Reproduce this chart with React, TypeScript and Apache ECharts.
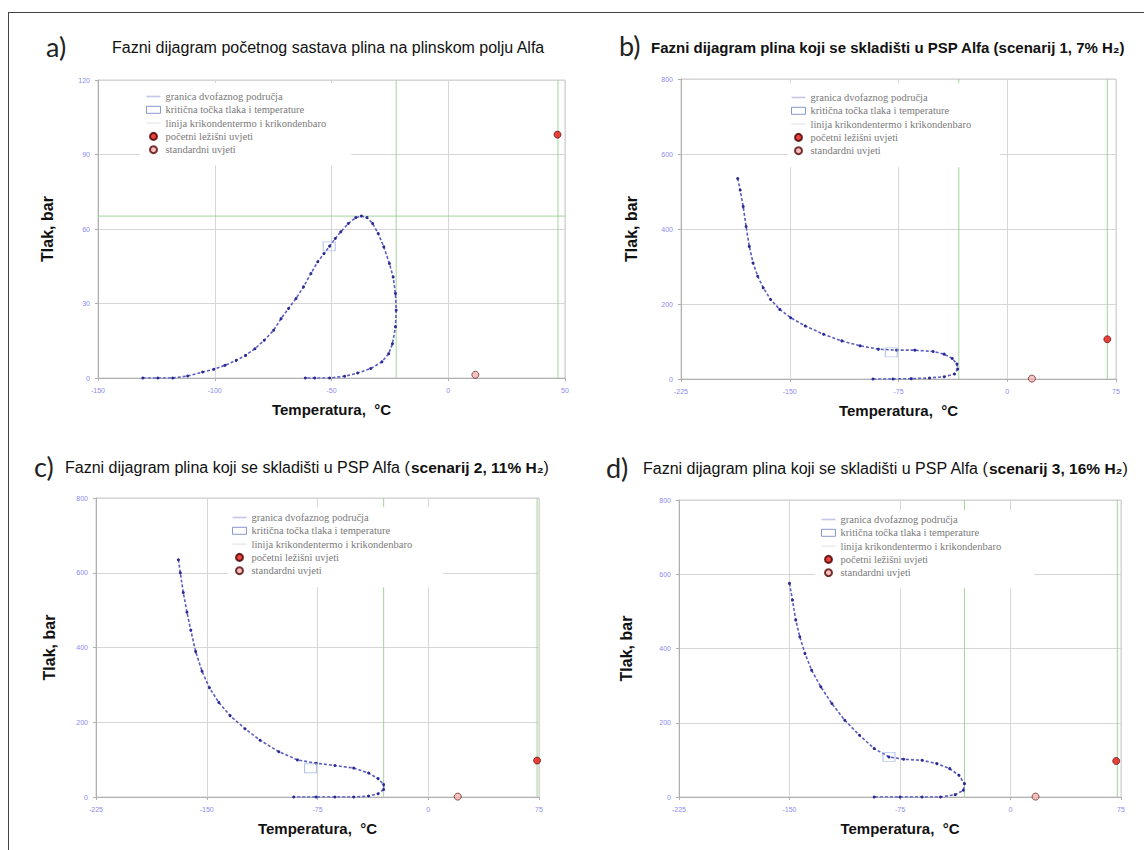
import React, { useEffect, useRef } from "react";
import * as echarts from "echarts";

// ---------- texts ----------
const panelLetters = ["a)", "b)", "c)", "d)"];
const titleA = "Fazni dijagram početnog sastava plina na plinskom polju Alfa";
const titleB = "Fazni dijagram plina koji se skladišti u PSP Alfa (scenarij 1, 7% H₂)";
const titleCD = "Fazni dijagram plina koji se skladišti u PSP Alfa (";
const boldC = "scenarij 2, 11% H₂";
const boldD = "scenarij 3, 16% H₂";
const xName = "Temperatura,  °C";
const yName = "Tlak, bar";
const legendNames = [
  "granica dvofaznog područja",
  "kritična točka tlaka i temperature",
  "linija krikondentermo i krikondenbaro",
  "početni ležišni uvjeti",
  "standardni uvjeti",
];

// ---------- axis ranges ----------
const xRangeA = [-150, 50, 50];
const yRangeA = [0, 120, 30];
const xRangeH2 = [-225, 75, 75];
const yRangeH2 = [0, 800, 200];

// ---------- data (T °C, p bar) ----------
const envelopeA = [
  [-130.8, 0], [-124.4, 0], [-118, 0], [-111.6, 0.8], [-105.2, 2.4], [-100.4, 3.5],
  [-95.6, 5.1], [-90.8, 7.1], [-86.8, 9.1], [-82.8, 11.8], [-78.8, 15.2], [-74.8, 19.2],
  [-71.6, 23.9], [-68.4, 28], [-65.2, 32], [-62, 36.7], [-58.8, 42.1], [-55.9, 46.8],
  [-53.2, 50.1], [-50.8, 53.1], [-48.4, 56.2], [-46, 58.9], [-42.8, 62.2], [-39.6, 64.6],
  [-37.2, 65.2], [-34.8, 64.6], [-32.4, 62.2], [-30, 58.2], [-27.6, 52.8], [-25.2, 46.1],
  [-23.6, 40.7], [-22.6, 34], [-22.3, 27.3], [-22.6, 20.6], [-23.9, 13.8], [-25.5, 9.8],
  [-28.4, 6.5], [-33.2, 3.8], [-38.8, 2], [-44.4, 0.7], [-50.8, 0], [-57.2, 0], [-61.2, 0],
];
const envelopeB = [
  [-185.9, 534.8], [-184.2, 503.9], [-182.1, 459.7], [-180.1, 406.6], [-177.9, 353.6],
  [-175.3, 309.4], [-172.1, 274], [-168.3, 243.1], [-163.2, 212.2], [-156.9, 185.6],
  [-149.4, 163.5], [-139.3, 141.4], [-126.7, 119.3], [-114.1, 101.7], [-101.5, 88.4],
  [-88.9, 79.6], [-76.3, 76.9], [-63.7, 76.9], [-51.1, 73.4], [-43.5, 66.3], [-37.9, 54.8],
  [-34.7, 39.8], [-34.2, 26.5], [-36.4, 13.3], [-43.5, 6.2], [-53.6, 2.7], [-66.2, 0.9],
  [-78.8, 0], [-92.6, 0],
];
const envelopeC = [
  [-169.2, 634.8], [-167.9, 599.7], [-165.9, 547], [-163.4, 494.3], [-160.8, 446],
  [-157.5, 389], [-153.2, 336.3], [-148.2, 292.4], [-141.8, 252.9], [-134.2, 217.7],
  [-124.1, 182.6], [-113.9, 151.9], [-101.2, 121.2], [-88.6, 99.2], [-75.9, 90.4],
  [-63.2, 84.3], [-50.5, 77.3], [-40.4, 64.1], [-34, 49.2], [-30.2, 33.4], [-30.2, 20.2],
  [-34, 8.8], [-40.4, 2.6], [-50.5, 0], [-63.2, 0], [-75.9, 0], [-91.1, 0],
];
const envelopeD = [
  [-150, 575.4], [-148, 530.4], [-145.75, 476.5], [-143, 431.5], [-139.5, 386.6],
  [-135, 341.6], [-128.75, 296.7], [-121.25, 251.7], [-112.5, 206.8], [-102.5, 166.3],
  [-92.5, 130.4], [-82.5, 107.9], [-72.5, 101.6], [-60, 98.9], [-50, 89.9], [-41.25, 76.4],
  [-35, 58.4], [-31.25, 36], [-32, 18], [-37.5, 6.3], [-47.5, 0], [-60, 0], [-75, 0], [-92.5, 0],
];
const criticalA = [-51, 53];
const criticalB = [-80, 71];
const criticalC = [-79.7, 77];
const criticalD = [-82.5, 108];
const initialA = [46.8, 98];
const initialB = [69, 106];
const initialC = [73.7, 97.5];
const initialD = [71.75, 97];
const standardA = [11.6, 1.3];
const standardB = [17, 1];
const standardC = [20, 1];
const standardD = [17, 1];
const cricondenthermA = [-22.3, 47];
const cricondenthermB = [-33.4, 69];
const cricondenthermC = [-30.2, 73.7];
const cricondenthermD = [-31.25, 72.5];
const cricondenbarA = [65.2];

// ---------- layout ----------
const grids = [
  { left: 98, top: 80, width: 467, height: 298 },
  { left: 681, top: 79, width: 435, height: 300 },
  { left: 96, top: 498, width: 443, height: 299 },
  { left: 679, top: 500, width: 442, height: 297 },
];
const yNameGaps = [43, 42, 39, 45];
const legendPos = [
  { left: 140, top: 83, padding: [8, 25, 10, 6] },
  { left: 788, top: 83, padding: [9, 29, 11, 3] },
  { left: 228, top: 507, padding: [5, 31, 11, 4] },
  { left: 815, top: 510, padding: [4, 33, 10, 6] },
];

const FONT = "'Liberation Sans', Arial, sans-serif";

export default function App() {
  const ref = useRef<HTMLDivElement>(null);
  useEffect(() => {
    document.body.style.margin = "0";
    if (!ref.current) return;
    const chart = echarts.init(ref.current, null, { renderer: "svg" });

    const panels = [
      { env: envelopeA, crit: criticalA, init: initialA, std: standardA, gv: cricondenthermA, gh: cricondenbarA, xr: xRangeA, yr: yRangeA },
      { env: envelopeB, crit: criticalB, init: initialB, std: standardB, gv: cricondenthermB, gh: [], xr: xRangeH2, yr: yRangeH2 },
      { env: envelopeC, crit: criticalC, init: initialC, std: standardC, gv: cricondenthermC, gh: [], xr: xRangeH2, yr: yRangeH2 },
      { env: envelopeD, crit: criticalD, init: initialD, std: standardD, gv: cricondenthermD, gh: [], xr: xRangeH2, yr: yRangeH2 },
    ];

    const xAxis: any[] = [];
    const yAxis: any[] = [];
    const series: any[] = [];
    const legend: any[] = [];

    panels.forEach((p, i) => {
      xAxis.push({
        gridIndex: i, type: "value", min: p.xr[0], max: p.xr[1], interval: p.xr[2],
        name: xName, nameLocation: "middle", nameGap: 24,
        nameTextStyle: { fontFamily: FONT, fontWeight: "bold", fontSize: 15, color: "#111" },
        axisLine: { show: true, onZero: false, lineStyle: { color: "#b0b0b0" } },
        axisTick: { show: true, length: 3, lineStyle: { color: "#b0b0b0" } },
        axisLabel: { fontSize: 7, color: "#8a8af0", margin: 9, fontFamily: FONT },
        splitLine: { show: true, lineStyle: { color: "#d6d6d6" } },
      });
      yAxis.push({
        gridIndex: i, type: "value", min: p.yr[0], max: p.yr[1], interval: p.yr[2],
        name: yName, nameLocation: "middle", nameGap: yNameGaps[i],
        nameTextStyle: { fontFamily: FONT, fontWeight: "bold", fontSize: 16, color: "#111" },
        axisLine: { show: true, onZero: false, lineStyle: { color: "#b0b0b0" } },
        axisTick: { show: true, length: 3, lineStyle: { color: "#b0b0b0" } },
        axisLabel: { fontSize: 7, color: "#8a8af0", margin: 8, fontFamily: FONT },
        splitLine: { show: true, lineStyle: { color: "#d6d6d6" } },
      });

      p.gv.forEach((x) => {
        series.push({
          name: legendNames[2], type: "line", xAxisIndex: i, yAxisIndex: i,
          data: [[x, p.yr[0]], [x, p.yr[1]]], showSymbol: false, silent: true,
          lineStyle: { color: "#a2d49a", width: 1 }, itemStyle: { color: "#a2d49a" }, z: 1,
        });
      });
      p.gh.forEach((y) => {
        series.push({
          name: legendNames[2], type: "line", xAxisIndex: i, yAxisIndex: i,
          data: [[p.xr[0], y], [p.xr[1], y]], showSymbol: false, silent: true,
          lineStyle: { color: "#a2d49a", width: 1 }, itemStyle: { color: "#a2d49a" }, z: 1,
        });
      });
      series.push({
        name: legendNames[0], type: "line", xAxisIndex: i, yAxisIndex: i,
        data: p.env, smooth: false, symbol: "circle", symbolSize: 3, showSymbol: true,
        lineStyle: { color: "#5c5cc4", width: 1.6, type: [3, 2] }, itemStyle: { color: "#2a2a92" }, z: 3,
      });
      series.push({
        name: legendNames[1], type: "scatter", xAxisIndex: i, yAxisIndex: i,
        data: [p.crit], symbol: "rect", symbolSize: [12, 9],
        itemStyle: { color: "rgba(255,255,255,0)", borderColor: "#a4b6e6", borderWidth: 1 }, z: 4,
      });
      series.push({
        name: legendNames[3], type: "scatter", xAxisIndex: i, yAxisIndex: i,
        data: [p.init], symbol: "circle", symbolSize: 7,
        itemStyle: { color: "#e8140c", borderColor: "#400", borderWidth: 0.8 }, z: 5,
      });
      series.push({
        name: legendNames[4], type: "scatter", xAxisIndex: i, yAxisIndex: i,
        data: [p.std], symbol: "circle", symbolSize: 7,
        itemStyle: { color: "#f4b4b4", borderColor: "#500", borderWidth: 0.8 }, z: 5,
      });

      legend.push({
        orient: "vertical", left: legendPos[i].left, top: legendPos[i].top,
        padding: legendPos[i].padding, backgroundColor: "#fff",
        itemWidth: 14, itemHeight: 7, itemGap: 2.3, selectedMode: false,
        textStyle: { fontSize: 10.5, lineHeight: 11, color: "#7a7a7a", fontFamily: "'Liberation Serif', serif" },
        data: [
          { name: legendNames[0], icon: "path://M0,0H14V1.6H0Z", itemStyle: { color: "#c6c6ea" }, lineStyle: { color: "#c6c6ea", width: 1.5, type: "solid" } },
          { name: legendNames[1], icon: "rect", itemStyle: { color: "#fff", borderColor: "#6a80c2", borderWidth: 1 } },
          { name: legendNames[2], icon: "path://M0,0H14V1.2H0Z", itemStyle: { color: "#e4e4e4" }, lineStyle: { color: "#e4e4e4", width: 1 } },
          { name: legendNames[3], icon: "circle", itemStyle: { color: "#e8140c" } },
          { name: legendNames[4], icon: "circle", itemStyle: { color: "#f2b0b0" } },
        ],
      });
    });

    const letterStyle = { fontFamily: "Lato, 'Open Sans', sans-serif", fontSize: 27, fontWeight: "normal", color: "#222" };
    const titleStyle = { fontFamily: FONT, fontSize: 16, fontWeight: "normal", color: "#111" };
    const richCD = {
      n: { fontFamily: FONT, fontSize: 16, fontWeight: "normal", color: "#111" },
      b: { fontFamily: FONT, fontSize: 15.5, fontWeight: "bold", color: "#111" },
    };

    const title = [
      { text: panelLetters[0], left: 46, top: 33, padding: 0, textStyle: letterStyle },
      { text: panelLetters[1], left: 619, top: 32, padding: 0, textStyle: letterStyle },
      { text: panelLetters[2], left: 34, top: 453, padding: 0, textStyle: letterStyle },
      { text: panelLetters[3], left: 606, top: 454, padding: 0, textStyle: letterStyle },
      { text: titleA, left: 112, top: 39, padding: 0, textStyle: titleStyle },
      {
        text: titleB, left: 651, top: 40, padding: 0,
        textStyle: { fontFamily: FONT, fontSize: 15, fontWeight: "bold", color: "#111" },
      },
      { text: `{n|${titleCD}}{b|${boldC}}{n|)}`, left: 65, top: 459, padding: 0, textStyle: { rich: richCD } },
      { text: `{n|${titleCD}}{b|${boldD}}{n|)}`, left: 643, top: 460, padding: 0, textStyle: { rich: richCD } },
    ];

    chart.setOption({
      animation: false,
      backgroundColor: "#fff",
      title,
      grid: grids.map((g) => ({ ...g, show: true, borderColor: "#cfcfcf", borderWidth: 1, backgroundColor: "transparent" })),
      xAxis,
      yAxis,
      legend,
      series,
      graphic: [
        { type: "line", shape: { x1: 8, y1: 12.5, x2: 1144, y2: 12.5 }, style: { stroke: "#444", lineWidth: 1 }, z: 10 },
        { type: "line", shape: { x1: 8.5, y1: 12, x2: 8.5, y2: 850 }, style: { stroke: "#444", lineWidth: 1 }, z: 10 },
      ],
    });

    return () => chart.dispose();
  }, []);

  return <div ref={ref} style={{ width: 1144, height: 850 }} />;
}
